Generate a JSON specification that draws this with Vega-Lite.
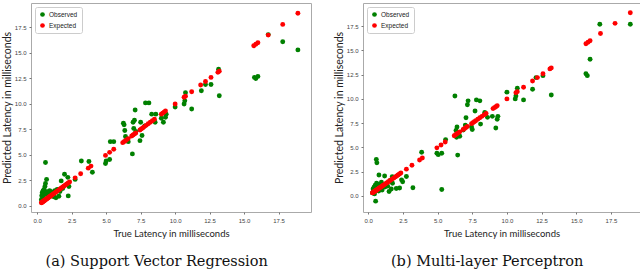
{
  "$schema": "https://vega.github.io/schema/vega-lite/v6.json",
  "background": "white",
  "padding": {"left": 1, "top": 2, "right": 0, "bottom": 0},
  "spacing": 21,
  "datasets": {
    "pts": [
      {"p": "a", "s": "Observed", "x": 0.3, "y": 0.6},
      {"p": "a", "s": "Observed", "x": 0.33, "y": 1.0},
      {"p": "a", "s": "Observed", "x": 0.36, "y": 1.3},
      {"p": "a", "s": "Observed", "x": 0.4, "y": 0.8},
      {"p": "a", "s": "Observed", "x": 0.43, "y": 1.5},
      {"p": "a", "s": "Observed", "x": 0.46, "y": 1.1},
      {"p": "a", "s": "Observed", "x": 0.5, "y": 1.6},
      {"p": "a", "s": "Observed", "x": 0.53, "y": 0.7},
      {"p": "a", "s": "Observed", "x": 0.56, "y": 1.9},
      {"p": "a", "s": "Observed", "x": 0.6, "y": 4.25},
      {"p": "a", "s": "Observed", "x": 0.6, "y": 2.2},
      {"p": "a", "s": "Observed", "x": 0.64, "y": 1.2},
      {"p": "a", "s": "Observed", "x": 0.68, "y": 2.6},
      {"p": "a", "s": "Observed", "x": 0.72, "y": 1.4},
      {"p": "a", "s": "Observed", "x": 0.76, "y": 1.0},
      {"p": "a", "s": "Observed", "x": 0.8, "y": 1.3},
      {"p": "a", "s": "Observed", "x": 0.85, "y": 1.1},
      {"p": "a", "s": "Observed", "x": 0.9, "y": 1.5},
      {"p": "a", "s": "Observed", "x": 0.95, "y": 1.2},
      {"p": "a", "s": "Observed", "x": 1.0, "y": 1.4},
      {"p": "a", "s": "Observed", "x": 1.06, "y": 1.0},
      {"p": "a", "s": "Observed", "x": 1.12, "y": 1.3},
      {"p": "a", "s": "Observed", "x": 1.2, "y": 0.9},
      {"p": "a", "s": "Observed", "x": 1.28, "y": 1.5},
      {"p": "a", "s": "Observed", "x": 1.36, "y": 0.8},
      {"p": "a", "s": "Observed", "x": 1.45, "y": 1.6},
      {"p": "a", "s": "Observed", "x": 1.57, "y": 0.95},
      {"p": "a", "s": "Observed", "x": 1.65, "y": 1.4},
      {"p": "a", "s": "Observed", "x": 1.74, "y": 2.45},
      {"p": "a", "s": "Observed", "x": 1.85, "y": 1.7},
      {"p": "a", "s": "Observed", "x": 1.98, "y": 3.1},
      {"p": "a", "s": "Observed", "x": 2.22, "y": 2.8},
      {"p": "a", "s": "Observed", "x": 2.25, "y": 0.98},
      {"p": "a", "s": "Observed", "x": 2.3, "y": 1.9},
      {"p": "a", "s": "Observed", "x": 2.75, "y": 2.6},
      {"p": "a", "s": "Observed", "x": 3.2, "y": 4.4},
      {"p": "a", "s": "Observed", "x": 3.75, "y": 4.35},
      {"p": "a", "s": "Observed", "x": 4.0, "y": 3.3},
      {"p": "a", "s": "Observed", "x": 4.95, "y": 4.15},
      {"p": "a", "s": "Observed", "x": 5.0, "y": 4.4},
      {"p": "a", "s": "Observed", "x": 5.25, "y": 4.55},
      {"p": "a", "s": "Observed", "x": 5.3, "y": 6.3},
      {"p": "a", "s": "Observed", "x": 5.55, "y": 6.3},
      {"p": "a", "s": "Observed", "x": 6.25, "y": 8.1},
      {"p": "a", "s": "Observed", "x": 6.3, "y": 7.95},
      {"p": "a", "s": "Observed", "x": 6.35, "y": 7.4},
      {"p": "a", "s": "Observed", "x": 6.4, "y": 6.8},
      {"p": "a", "s": "Observed", "x": 6.5, "y": 6.5},
      {"p": "a", "s": "Observed", "x": 6.6, "y": 6.3},
      {"p": "a", "s": "Observed", "x": 6.9, "y": 5.1},
      {"p": "a", "s": "Observed", "x": 6.95, "y": 8.2},
      {"p": "a", "s": "Observed", "x": 7.0, "y": 7.6},
      {"p": "a", "s": "Observed", "x": 7.05, "y": 8.4},
      {"p": "a", "s": "Observed", "x": 7.1, "y": 9.4},
      {"p": "a", "s": "Observed", "x": 7.15, "y": 7.3},
      {"p": "a", "s": "Observed", "x": 7.45, "y": 6.4},
      {"p": "a", "s": "Observed", "x": 7.5, "y": 8.2},
      {"p": "a", "s": "Observed", "x": 7.6, "y": 6.9},
      {"p": "a", "s": "Observed", "x": 7.8, "y": 7.85},
      {"p": "a", "s": "Observed", "x": 7.85, "y": 10.1},
      {"p": "a", "s": "Observed", "x": 8.1, "y": 10.1},
      {"p": "a", "s": "Observed", "x": 8.3, "y": 9.0},
      {"p": "a", "s": "Observed", "x": 8.55, "y": 8.2},
      {"p": "a", "s": "Observed", "x": 8.6, "y": 9.0},
      {"p": "a", "s": "Observed", "x": 9.0, "y": 8.6},
      {"p": "a", "s": "Observed", "x": 9.15, "y": 8.2},
      {"p": "a", "s": "Observed", "x": 9.3, "y": 8.7},
      {"p": "a", "s": "Observed", "x": 9.35, "y": 9.0},
      {"p": "a", "s": "Observed", "x": 10.0, "y": 9.7},
      {"p": "a", "s": "Observed", "x": 10.65, "y": 10.0},
      {"p": "a", "s": "Observed", "x": 10.7, "y": 10.3},
      {"p": "a", "s": "Observed", "x": 10.75, "y": 11.1},
      {"p": "a", "s": "Observed", "x": 11.2, "y": 9.5},
      {"p": "a", "s": "Observed", "x": 11.9, "y": 11.3},
      {"p": "a", "s": "Observed", "x": 12.2, "y": 11.9},
      {"p": "a", "s": "Observed", "x": 12.6, "y": 11.9},
      {"p": "a", "s": "Observed", "x": 13.15, "y": 13.4},
      {"p": "a", "s": "Observed", "x": 13.2, "y": 10.8},
      {"p": "a", "s": "Observed", "x": 15.75, "y": 12.6},
      {"p": "a", "s": "Observed", "x": 15.85, "y": 12.5},
      {"p": "a", "s": "Observed", "x": 16.0, "y": 12.7},
      {"p": "a", "s": "Observed", "x": 16.75, "y": 16.8},
      {"p": "a", "s": "Observed", "x": 17.8, "y": 16.1},
      {"p": "a", "s": "Observed", "x": 18.9, "y": 15.3},

      {"p": "b", "s": "Observed", "x": 0.3, "y": 0.3},
      {"p": "b", "s": "Observed", "x": 0.35, "y": 0.7},
      {"p": "b", "s": "Observed", "x": 0.4, "y": 0.5},
      {"p": "b", "s": "Observed", "x": 0.42, "y": 0.9},
      {"p": "b", "s": "Observed", "x": 0.45, "y": 0.2},
      {"p": "b", "s": "Observed", "x": 0.5, "y": 1.1},
      {"p": "b", "s": "Observed", "x": 0.53, "y": -0.55},
      {"p": "b", "s": "Observed", "x": 0.55, "y": 0.6},
      {"p": "b", "s": "Observed", "x": 0.58, "y": 3.75},
      {"p": "b", "s": "Observed", "x": 0.62, "y": 3.4},
      {"p": "b", "s": "Observed", "x": 0.6, "y": 1.3},
      {"p": "b", "s": "Observed", "x": 0.65, "y": 0.8},
      {"p": "b", "s": "Observed", "x": 0.7, "y": 1.0},
      {"p": "b", "s": "Observed", "x": 0.75, "y": 0.5},
      {"p": "b", "s": "Observed", "x": 0.77, "y": 2.15},
      {"p": "b", "s": "Observed", "x": 0.8, "y": 1.2},
      {"p": "b", "s": "Observed", "x": 0.85, "y": 0.7},
      {"p": "b", "s": "Observed", "x": 0.9, "y": 0.9},
      {"p": "b", "s": "Observed", "x": 0.95, "y": 1.4},
      {"p": "b", "s": "Observed", "x": 1.0, "y": 0.6},
      {"p": "b", "s": "Observed", "x": 1.1, "y": 1.1},
      {"p": "b", "s": "Observed", "x": 1.18, "y": 2.05},
      {"p": "b", "s": "Observed", "x": 1.2, "y": 0.9},
      {"p": "b", "s": "Observed", "x": 1.3, "y": 1.2},
      {"p": "b", "s": "Observed", "x": 1.4, "y": 1.0},
      {"p": "b", "s": "Observed", "x": 1.5, "y": 0.45},
      {"p": "b", "s": "Observed", "x": 1.6, "y": 1.6},
      {"p": "b", "s": "Observed", "x": 1.66, "y": 0.7},
      {"p": "b", "s": "Observed", "x": 1.73, "y": 1.98},
      {"p": "b", "s": "Observed", "x": 1.75, "y": 1.3},
      {"p": "b", "s": "Observed", "x": 2.02, "y": 0.76},
      {"p": "b", "s": "Observed", "x": 2.26, "y": 0.8},
      {"p": "b", "s": "Observed", "x": 2.4, "y": 1.65},
      {"p": "b", "s": "Observed", "x": 2.48, "y": 1.45},
      {"p": "b", "s": "Observed", "x": 2.75, "y": 2.0},
      {"p": "b", "s": "Observed", "x": 3.22, "y": 0.83},
      {"p": "b", "s": "Observed", "x": 3.85, "y": 4.5},
      {"p": "b", "s": "Observed", "x": 4.95, "y": 4.4},
      {"p": "b", "s": "Observed", "x": 5.05, "y": 4.25},
      {"p": "b", "s": "Observed", "x": 5.3, "y": 4.4},
      {"p": "b", "s": "Observed", "x": 5.3, "y": 0.65},
      {"p": "b", "s": "Observed", "x": 5.58, "y": 5.8},
      {"p": "b", "s": "Observed", "x": 6.25, "y": 10.3},
      {"p": "b", "s": "Observed", "x": 6.35, "y": 6.3},
      {"p": "b", "s": "Observed", "x": 6.37, "y": 6.05},
      {"p": "b", "s": "Observed", "x": 6.4, "y": 7.1},
      {"p": "b", "s": "Observed", "x": 6.33, "y": 6.75},
      {"p": "b", "s": "Observed", "x": 6.45, "y": 4.2},
      {"p": "b", "s": "Observed", "x": 6.6, "y": 6.15},
      {"p": "b", "s": "Observed", "x": 6.85, "y": 6.8},
      {"p": "b", "s": "Observed", "x": 7.0, "y": 7.3},
      {"p": "b", "s": "Observed", "x": 7.05, "y": 8.05},
      {"p": "b", "s": "Observed", "x": 7.15, "y": 9.4},
      {"p": "b", "s": "Observed", "x": 7.2, "y": 9.8},
      {"p": "b", "s": "Observed", "x": 7.45, "y": 7.1},
      {"p": "b", "s": "Observed", "x": 7.5, "y": 6.85},
      {"p": "b", "s": "Observed", "x": 7.7, "y": 8.75},
      {"p": "b", "s": "Observed", "x": 7.8, "y": 9.9},
      {"p": "b", "s": "Observed", "x": 8.05, "y": 9.8},
      {"p": "b", "s": "Observed", "x": 8.1, "y": 7.4},
      {"p": "b", "s": "Observed", "x": 8.4, "y": 8.6},
      {"p": "b", "s": "Observed", "x": 8.6, "y": 8.1},
      {"p": "b", "s": "Observed", "x": 8.95, "y": 8.2},
      {"p": "b", "s": "Observed", "x": 9.2, "y": 7.0},
      {"p": "b", "s": "Observed", "x": 9.3, "y": 7.9},
      {"p": "b", "s": "Observed", "x": 9.35, "y": 8.2},
      {"p": "b", "s": "Observed", "x": 10.0, "y": 10.7},
      {"p": "b", "s": "Observed", "x": 10.6, "y": 10.0},
      {"p": "b", "s": "Observed", "x": 10.65, "y": 10.3},
      {"p": "b", "s": "Observed", "x": 10.75, "y": 11.1},
      {"p": "b", "s": "Observed", "x": 11.2, "y": 9.9},
      {"p": "b", "s": "Observed", "x": 11.85, "y": 11.0},
      {"p": "b", "s": "Observed", "x": 12.1, "y": 12.2},
      {"p": "b", "s": "Observed", "x": 12.6, "y": 12.4},
      {"p": "b", "s": "Observed", "x": 13.2, "y": 10.4},
      {"p": "b", "s": "Observed", "x": 15.7, "y": 12.6},
      {"p": "b", "s": "Observed", "x": 15.8, "y": 12.4},
      {"p": "b", "s": "Observed", "x": 16.0, "y": 14.1},
      {"p": "b", "s": "Observed", "x": 16.7, "y": 17.7},
      {"p": "b", "s": "Observed", "x": 18.9, "y": 17.7},

      {"p": "e", "s": "Expected", "x": 0.3, "y": 0.3},
      {"p": "e", "s": "Expected", "x": 0.33, "y": 0.33},
      {"p": "e", "s": "Expected", "x": 0.36, "y": 0.36},
      {"p": "e", "s": "Expected", "x": 0.4, "y": 0.4},
      {"p": "e", "s": "Expected", "x": 0.43, "y": 0.43},
      {"p": "e", "s": "Expected", "x": 0.46, "y": 0.46},
      {"p": "e", "s": "Expected", "x": 0.5, "y": 0.5},
      {"p": "e", "s": "Expected", "x": 0.53, "y": 0.53},
      {"p": "e", "s": "Expected", "x": 0.56, "y": 0.56},
      {"p": "e", "s": "Expected", "x": 0.6, "y": 0.6},
      {"p": "e", "s": "Expected", "x": 0.64, "y": 0.64},
      {"p": "e", "s": "Expected", "x": 0.68, "y": 0.68},
      {"p": "e", "s": "Expected", "x": 0.72, "y": 0.72},
      {"p": "e", "s": "Expected", "x": 0.76, "y": 0.76},
      {"p": "e", "s": "Expected", "x": 0.8, "y": 0.8},
      {"p": "e", "s": "Expected", "x": 0.85, "y": 0.85},
      {"p": "e", "s": "Expected", "x": 0.9, "y": 0.9},
      {"p": "e", "s": "Expected", "x": 0.95, "y": 0.95},
      {"p": "e", "s": "Expected", "x": 1.0, "y": 1.0},
      {"p": "e", "s": "Expected", "x": 1.06, "y": 1.06},
      {"p": "e", "s": "Expected", "x": 1.12, "y": 1.12},
      {"p": "e", "s": "Expected", "x": 1.2, "y": 1.2},
      {"p": "e", "s": "Expected", "x": 1.28, "y": 1.28},
      {"p": "e", "s": "Expected", "x": 1.36, "y": 1.36},
      {"p": "e", "s": "Expected", "x": 1.45, "y": 1.45},
      {"p": "e", "s": "Expected", "x": 1.55, "y": 1.55},
      {"p": "e", "s": "Expected", "x": 1.65, "y": 1.65},
      {"p": "e", "s": "Expected", "x": 1.75, "y": 1.75},
      {"p": "e", "s": "Expected", "x": 1.85, "y": 1.85},
      {"p": "e", "s": "Expected", "x": 1.95, "y": 1.95},
      {"p": "e", "s": "Expected", "x": 2.05, "y": 2.05},
      {"p": "e", "s": "Expected", "x": 2.15, "y": 2.15},
      {"p": "e", "s": "Expected", "x": 2.25, "y": 2.25},
      {"p": "e", "s": "Expected", "x": 2.35, "y": 2.35},
      {"p": "e", "s": "Expected", "x": 2.75, "y": 2.75},
      {"p": "e", "s": "Expected", "x": 3.15, "y": 3.15},
      {"p": "e", "s": "Expected", "x": 3.7, "y": 3.7},
      {"p": "e", "s": "Expected", "x": 3.9, "y": 3.9},
      {"p": "e", "s": "Expected", "x": 4.95, "y": 4.95},
      {"p": "e", "s": "Expected", "x": 5.25, "y": 5.25},
      {"p": "e", "s": "Expected", "x": 5.55, "y": 5.55},
      {"p": "e", "s": "Expected", "x": 6.2, "y": 6.2},
      {"p": "e", "s": "Expected", "x": 6.3, "y": 6.3},
      {"p": "e", "s": "Expected", "x": 6.4, "y": 6.4},
      {"p": "e", "s": "Expected", "x": 6.5, "y": 6.5},
      {"p": "e", "s": "Expected", "x": 6.6, "y": 6.6},
      {"p": "e", "s": "Expected", "x": 6.85, "y": 6.85},
      {"p": "e", "s": "Expected", "x": 6.95, "y": 6.95},
      {"p": "e", "s": "Expected", "x": 7.05, "y": 7.05},
      {"p": "e", "s": "Expected", "x": 7.15, "y": 7.15},
      {"p": "e", "s": "Expected", "x": 7.45, "y": 7.45},
      {"p": "e", "s": "Expected", "x": 7.55, "y": 7.55},
      {"p": "e", "s": "Expected", "x": 7.65, "y": 7.65},
      {"p": "e", "s": "Expected", "x": 7.75, "y": 7.75},
      {"p": "e", "s": "Expected", "x": 7.9, "y": 7.9},
      {"p": "e", "s": "Expected", "x": 8.05, "y": 8.05},
      {"p": "e", "s": "Expected", "x": 8.2, "y": 8.2},
      {"p": "e", "s": "Expected", "x": 8.35, "y": 8.35},
      {"p": "e", "s": "Expected", "x": 8.5, "y": 8.5},
      {"p": "e", "s": "Expected", "x": 9.0, "y": 9.0},
      {"p": "e", "s": "Expected", "x": 9.1, "y": 9.1},
      {"p": "e", "s": "Expected", "x": 9.2, "y": 9.2},
      {"p": "e", "s": "Expected", "x": 9.3, "y": 9.3},
      {"p": "e", "s": "Expected", "x": 10.0, "y": 10.0},
      {"p": "e", "s": "Expected", "x": 10.65, "y": 10.65},
      {"p": "e", "s": "Expected", "x": 10.75, "y": 10.75},
      {"p": "e", "s": "Expected", "x": 11.2, "y": 11.2},
      {"p": "e", "s": "Expected", "x": 11.85, "y": 11.85},
      {"p": "e", "s": "Expected", "x": 12.2, "y": 12.2},
      {"p": "e", "s": "Expected", "x": 12.6, "y": 12.6},
      {"p": "e", "s": "Expected", "x": 13.1, "y": 13.1},
      {"p": "e", "s": "Expected", "x": 13.2, "y": 13.2},
      {"p": "e", "s": "Expected", "x": 15.7, "y": 15.7},
      {"p": "e", "s": "Expected", "x": 15.85, "y": 15.85},
      {"p": "e", "s": "Expected", "x": 16.0, "y": 16.0},
      {"p": "e", "s": "Expected", "x": 16.75, "y": 16.75},
      {"p": "e", "s": "Expected", "x": 17.8, "y": 17.8},
      {"p": "e", "s": "Expected", "x": 18.9, "y": 18.9}
    ]
  },
  "hconcat": [
    {
      "width": 280,
      "height": 209,
      "data": {"name": "pts"},
      "transform": [{"filter": "datum.p == 'a' || datum.p == 'e'"}],
      "title": {"text": "(a) Support Vector Regression", "orient": "bottom", "anchor": "middle", "frame": "bounds", "font": "DejaVu Serif", "fontSize": 14.5, "fontWeight": "normal", "color": "#111", "offset": 17},
      "mark": {"type": "point", "filled": true, "size": 24, "opacity": 1},
      "encoding": {
        "x": {"field": "x", "type": "quantitative", "scale": {"domain": [-0.45, 19.85], "nice": false, "zero": false},
              "axis": {"values": [0, 2.5, 5, 7.5, 10, 12.5, 15, 17.5], "format": ".1f", "title": "True Latency in milliseconds"}},
        "y": {"field": "y", "type": "quantitative", "scale": {"domain": [-0.6, 19.9], "nice": false, "zero": false},
              "axis": {"values": [0, 2.5, 5, 7.5, 10, 12.5, 15, 17.5], "format": ".1f", "title": "Predicted Latency in milliseconds"}},
        "color": {"field": "s", "type": "nominal", "scale": {"domain": ["Observed", "Expected"], "range": ["#008000", "#ff0000"]},
                  "legend": {"title": null, "orient": "top-left", "offset": 4}}
      }
    },
    {
      "width": 277,
      "height": 209,
      "data": {"name": "pts"},
      "transform": [{"filter": "datum.p == 'b' || datum.p == 'e'"}],
      "title": {"text": "(b) Multi-layer Perceptron", "orient": "bottom", "anchor": "middle", "frame": "bounds", "font": "DejaVu Serif", "fontSize": 14.5, "fontWeight": "normal", "color": "#111", "offset": 17},
      "mark": {"type": "point", "filled": true, "size": 24, "opacity": 1},
      "encoding": {
        "x": {"field": "x", "type": "quantitative", "scale": {"domain": [-0.38, 19.6], "nice": false, "zero": false},
              "axis": {"values": [0, 2.5, 5, 7.5, 10, 12.5, 15, 17.5], "format": ".1f", "title": "True Latency in milliseconds"}},
        "y": {"field": "y", "type": "quantitative", "scale": {"domain": [-1.67, 19.9], "nice": false, "zero": false},
              "axis": {"values": [0, 2.5, 5, 7.5, 10, 12.5, 15, 17.5], "format": ".1f", "title": "Predicted Latency in milliseconds"}},
        "color": {"field": "s", "type": "nominal", "scale": {"domain": ["Observed", "Expected"], "range": ["#008000", "#ff0000"]},
                  "legend": {"title": null, "orient": "top-left", "offset": 4}}
      }
    }
  ],
  "resolve": {"scale": {"color": "independent"}, "legend": {"color": "independent"}},
  "config": {
    "view": {"stroke": "#aaa", "strokeWidth": 1},
    "axis": {
      "grid": false, "domain": false, "tickSize": 2, "tickColor": "#777",
      "labelFont": "Liberation Sans", "labelFontSize": 6, "labelColor": "#444", "labelPadding": 3,
      "titleFont": "Lato", "titleFontWeight": "normal", "titleColor": "#222"
    },
    "axisX": {"titleFontSize": 9.5, "titlePadding": 5},
    "axisY": {"titleFontSize": 10.5, "titlePadding": 2},
    "legend": {
      "strokeColor": "#ccc", "fillColor": "white", "padding": 4, "cornerRadius": 2,
      "labelFont": "Liberation Sans", "labelFontSize": 6.5, "labelColor": "#222",
      "symbolType": "circle", "symbolSize": 22, "rowPadding": 4, "labelOffset": 3
    }
  }
}
